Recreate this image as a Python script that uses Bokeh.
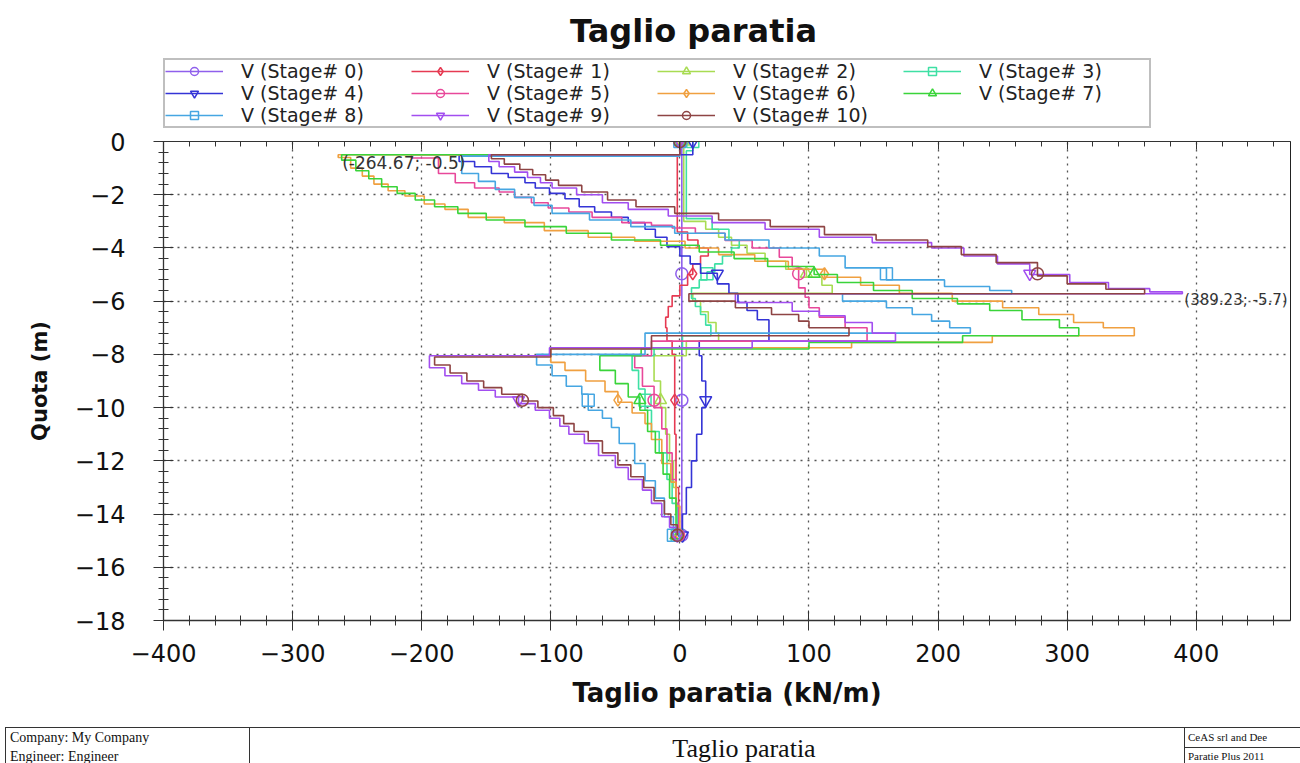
from bokeh.plotting import figure
from bokeh.models import (Range1d, LinearAxis, SingleIntervalTicker, Legend, LegendItem, Label, Div)
from bokeh.layouts import column
from bokeh.embed import file_html
from bokeh.resources import INLINE
from bokeh.core.properties import value

# ---------------- data ----------------
LABELS = [f"V (Stage# {i})" for i in range(11)]
COLORS = ["#8f5fec", "#e63a52", "#a8dc52", "#3ee0a4", "#3434d6", "#e8489a",
          "#f0a040", "#3ad43a", "#46a6e2", "#a24ef0", "#8e4444"]
MARKERS = ["circle", "diamond", "triangle", "square", "inverted_triangle", "circle",
           "diamond", "triangle", "square", "inverted_triangle", "circle"]

# depth nodes (m) and shear per element (kN/m) for each stage
D0 = [0, -14.8]
V0 = [1.5]

D1 = [0, -0.5, -3.4, -3.7, -4.0, -4.3, -4.6, -5.0, -5.4, -5.8, -6.2, -6.6, -7.0, -7.5, -8.0, -9.0, -11.0, -13.0, -14.8]
V1 = [0, -2, 6, 14, 22, 16, 10, 6, 0, -6, -9, -11, -10, -6, -4, -4, -3, -1]

D2 = [0, -3.0, -3.3, -3.6, -3.9, -4.2, -4.5, -4.8, -5.1, -5.4, -5.7, -6.0, -6.4, -6.8, -7.2, -7.5,
      -8.05, -9.0, -10.0, -11.0, -12.0, -13.0, -14.0, -14.8]
V2 = [3, 20, 30, 40, 52, 66, 82, 98, 110, 118, 10, 16, 22, 28, 30, 5, -20, -15, -11, -8, -5, -3, -1]

D3 = [0, -0.35, -2.9, -3.3, -3.7, -4.0, -4.3, -4.6, -4.9, -5.2, -5.5, -5.9, -6.2, -6.5, -6.9, -7.3,
      -7.75, -8.05, -8.6, -9.3, -10.1, -10.9, -11.7, -12.7, -13.6, -14.8]
V3 = [10, 5, 25, 38, 46, 40, 33, 27, 21, 15, 9, 12, 16, 20, 24, 2, -20, -37, -32, -27, -22, -16, -10, -6, -2]

D4 = [0, -0.5, -0.75, -0.95, -1.2, -1.35, -1.55, -1.75, -1.95, -2.15, -2.45, -2.65, -2.85, -3.05, -3.3,
      -3.6, -3.95, -4.3, -4.6, -4.95, -5.35, -5.7, -6.05, -6.35, -6.7, -7.5, -8.05, -9.0, -10.0, -11.0,
      -12.0, -13.0, -14.0, -14.8]
V4 = [10, -171, -159, -146, -133, -120, -112, -101, -89, -78, -66, -53, -40, -27, -19, -10, 0, 8, 16, 29,
      38, 45, 52, 60, 69, 15, 17, 20, 17, 13, 9, 5, 2]

D5 = [0, -0.5, -0.62, -1.2, -1.55, -1.75, -1.9, -2.1, -2.3, -2.5, -2.65, -2.85, -3.05, -3.15, -3.25,
      -3.45, -3.72, -4.0, -4.35, -4.7, -5.5, -5.85, -6.25, -6.6, -7.0, -7.5, -8.05, -8.5, -9.2, -10.0,
      -10.8, -11.7, -12.7, -13.6, -14.8]
V5 = [0, -208, -187, -174, -159, -140, -128, -115, -102, -86, -68, -45, -22, -6, 12, 35, 56, 77, 87, 92,
      97, 100, 108, 128, 145, -22, -35, -29, -20, -14, -10, -6, -3, -1]

D6 = [0, -0.5, -0.6, -1.0, -1.3, -1.6, -1.85, -2.05, -2.35, -2.55, -2.85, -3.05, -3.35, -3.6, -3.75,
      -4.0, -4.25, -4.5, -4.8, -5.1, -5.4, -5.7, -6.0, -6.25, -6.5, -6.8, -7.0, -7.3, -7.55, -7.75,
      -8.3, -8.6, -9.0, -9.4, -9.8, -10.2, -10.6, -11.2, -12.1, -12.8, -13.7, -14.8]
V6 = [0, -264.67, -255, -246, -237, -226, -213, -198, -182, -164, -136, -105, -71, -35, 4, 30, 58, 84,
      112, 140, 170, 211, 250, 278, 305, 328, 352, 242, 133, -100, -89, -73, -58, -48, -37, -27, -22,
      -14, -7, -3, 0]

D7 = [0, -0.5, -0.7, -1.1, -1.4, -1.7, -1.95, -2.2, -2.45, -2.7, -2.95, -3.2, -3.45, -3.7, -3.9, -4.15,
      -4.4, -4.7, -5.0, -5.3, -5.6, -5.9, -6.1, -6.35, -6.7, -7.0, -7.3, -7.55, -7.8, -8.05, -8.6, -9.1,
      -9.6, -10.1, -10.9, -11.7, -12.5, -13.4, -14.8]
V7 = [0, -262, -251, -241, -231, -219, -205, -190, -172, -150, -120, -88, -53, -15, 15, 42, 68, 104,
      122, 150, 180, 215, 240, 265, 294, 309, 219, 100, -30, -62, -50, -40, -31, -25, -19, -13, -8, -3]

D8 = [0, -0.55, -1.2, -1.5, -1.8, -2.1, -2.4, -2.7, -2.95, -3.2, -3.45, -3.7, -4.0, -4.3, -4.75, -5.2,
      -5.45, -5.6, -5.72, -6.0, -6.25, -6.5, -6.75, -7.0, -7.2, -8.0, -8.4, -8.8, -9.2, -9.5, -10.1,
      -10.4, -10.75, -11.35, -12.1, -12.75, -13.4, -14.1, -14.8]
V8 = [0, -169, -156, -143, -128, -113, -99, -70, -38, -4, 35, 69, 108, 128, 160, 205, 240, 257, 126,
      160, 180, 195, 209, 225, -27, -111, -99, -88, -76, -71, -60, -53, -47, -35, -27, -19, -12, -5]

D9 = [0, -0.5, -0.75, -0.95, -1.15, -1.35, -1.55, -1.75, -2.0, -2.3, -2.55, -2.8, -3.05, -3.3, -3.6,
      -3.8, -4.0, -4.3, -4.6, -5.0, -5.3, -5.53, -5.65, -5.72, -6.05, -6.38, -6.55, -6.8, -7.2, -7.5,
      -7.75, -8.05, -8.5, -8.8, -9.1, -9.35, -9.6, -9.85, -10.1, -10.4, -10.7, -11.0, -11.35, -11.8,
      -12.25, -12.7, -13.1, -13.6, -14.1, -14.5, -14.8]
V9 = [0, -148, -140, -128, -118, -108, -99, -80, -60, -40, -9, 25, 66, 108, 149, 195, 220, 246, 271,
      302, 332, 364, 389.23, 43, 87, 108, 128, 149, 167, 56, -101, -194, -182, -169, -156, -143, -125,
      -112, -101, -93, -86, -74, -63, -50, -40, -29, -22, -14, -8, -2]

D10 = [0, -0.5, -0.65, -0.85, -1.05, -1.25, -1.45, -1.65, -1.9, -2.2, -2.45, -2.7, -2.95, -3.2, -3.5,
       -3.7, -3.95, -4.25, -4.55, -5.05, -5.35, -5.55, -5.72, -6.0, -6.25, -6.5, -6.75, -7.0, -7.3,
       -7.8, -8.1, -8.4, -8.7, -9.0, -9.25, -9.5, -9.75, -10.0, -10.3, -10.6, -10.9, -11.25, -11.7,
       -12.15, -12.6, -13.0, -13.5, -14.0, -14.4, -14.8]
V10 = [0, -146, -136, -124, -114, -104, -94, -76, -56, -34, -4, 30, 70, 112, 152, 192, 218, 245, 277,
       300, 330, 360, 7, 43, 71, 92, 100, 131, -22, -100, -190, -178, -165, -152, -138, -122, -110, -98,
       -90, -82, -71, -60, -48, -38, -28, -20, -12, -7, -2]

DEPTHS = [D0, D1, D2, D3, D4, D5, D6, D7, D8, D9, D10]
SHEARS = [V0, V1, V2, V3, V4, V5, V6, V7, V8, V9, V10]
MARKER_DEPTHS = [0.0, -4.97, -9.72, -14.8]
X_TICKS_TOP = [-400, -300, -200, -100, 0, 100, 200, 300, 400]

TITLE = "Taglio paratia"
FOOTER_LEFT = ["Company: My Company", "Engineer: Engineer"]
FOOTER_CENTER = "Taglio paratia"
FOOTER_RIGHT = ["CeAS srl and Dee", "Paratie Plus 2011"]


def step_path(D, V):
    xs, ys = [], []
    for i, v in enumerate(V):
        xs += [v, v]
        ys += [D[i], D[i + 1]]
    return xs, ys


def value_at(D, V, d):
    for i, v in enumerate(V):
        if D[i] >= d >= D[i + 1]:
            return v
    return V[-1]


FONT = "DejaVu Sans"
W = 1296
LEFT, RIGHT = 163, 6
HEAD_H = 129

# ---------- header (title + legend); its glyphs share the series data but lie outside its view ----------
h = figure(width=W, height=HEAD_H, x_range=Range1d(0, 1), y_range=Range1d(1, 2),
           output_backend="svg", toolbar_location=None, title=None,
           min_border_left=LEFT, min_border_right=RIGHT, min_border_top=0, min_border_bottom=0,
           x_axis_location=None, y_axis_location=None)
h.grid.visible = False
h.outline_line_color = None
h.background_fill_color = "white"
h.border_fill_color = "white"

# ---------- main chart ----------
p = figure(width=W, height=722 - HEAD_H, x_range=Range1d(-400, 473), y_range=Range1d(-18, 0),
           output_backend="svg", toolbar_location=None, title=None,
           min_border_left=LEFT, min_border_right=RIGHT, min_border_top=12, min_border_bottom=102)
p.background_fill_color = "white"
p.border_fill_color = "white"
p.outline_line_color = "#222222"
p.outline_line_width = 1

items = []
for k in range(11):
    xs, ys = step_path(DEPTHS[k], SHEARS[k])
    mx = [value_at(DEPTHS[k], SHEARS[k], d) for d in MARKER_DEPTHS]
    p.line(xs, ys, line_color=COLORS[k], line_width=1.6)
    p.scatter(mx, MARKER_DEPTHS, marker=MARKERS[k], size=12, line_color=COLORS[k],
              line_width=1.5, fill_alpha=0)
    lr = h.line(xs, ys, line_color=COLORS[k], line_width=1.6)
    sr = h.scatter(mx, MARKER_DEPTHS, marker=MARKERS[k], size=10, line_color=COLORS[k],
                   line_width=1.5, fill_alpha=0)
    items.append(LegendItem(label=LABELS[k], renderers=[lr, sr]))

legend = Legend(items=items, location=(0, 1), orientation="horizontal", ncols=4,
                glyph_width=58, glyph_height=20, label_height=20, label_width=170,
                label_standoff=18, spacing=0, padding=0, margin=0,
                border_line_color="#808080", border_line_width=2,
                background_fill_color="white", background_fill_alpha=1.0,
                label_text_font=FONT, label_text_font_size="19px", label_text_color="#222222")
h.add_layout(legend, "center")
h.add_layout(Label(x=530, y=HEAD_H - 30, x_units="screen", y_units="screen", text=TITLE,
                   text_font=FONT, text_font_style="bold", text_font_size="32px",
                   text_align="center", text_baseline="middle", text_color="#111111"))

xt = SingleIntervalTicker(interval=100, num_minor_ticks=5)
yt = SingleIntervalTicker(interval=2, num_minor_ticks=5)
p.xaxis.ticker = xt
p.yaxis.ticker = yt
p.xgrid.ticker = xt
p.ygrid.ticker = yt
for g in (p.xgrid, p.ygrid):
    g.grid_line_color = "#555555"
    g.grid_line_dash = "2 5"
    g.grid_line_width = 1.3

for ax in (p.xaxis[0], p.yaxis[0]):
    ax.axis_line_color = "#333333"
    ax.axis_line_width = 1.3
    ax.major_tick_line_color = "#333333"
    ax.minor_tick_line_color = "#333333"
    ax.major_tick_in = 10
    ax.major_tick_out = 10
    ax.minor_tick_in = 5
    ax.minor_tick_out = 5
    ax.major_label_text_font = FONT
    ax.major_label_text_font_size = "24px"
    ax.major_label_text_color = "#111111"
    ax.axis_label_text_font = FONT
    ax.axis_label_text_font_style = "bold"
    ax.axis_label_text_color = "#111111"

p.xaxis[0].axis_label = "Taglio paratia (kN/m)"
p.xaxis[0].axis_label_text_font_size = "26px"
p.xaxis[0].major_label_standoff = 13
p.xaxis[0].axis_label_standoff = 13
p.yaxis[0].axis_label = "Quota (m)"
p.yaxis[0].axis_label_text_font_size = "21px"
p.yaxis[0].major_label_standoff = 28
p.yaxis[0].axis_label_standoff = 20

top_axis = LinearAxis(ticker=SingleIntervalTicker(interval=100, num_minor_ticks=5),
                      major_label_overrides={t: "" for t in X_TICKS_TOP},
                      major_label_text_font_size="1px", major_label_standoff=0,
                      axis_line_color="#333333",
                      major_tick_in=8, major_tick_out=0, minor_tick_in=5, minor_tick_out=0,
                      major_tick_line_color="#333333", minor_tick_line_color="#333333")
p.add_layout(top_axis, "above")

# extreme value annotations, from the data
i_min = V6.index(min(V6))
i_max = V9.index(max(V9))
p.text([V6[i_min]], [D6[i_min]], text=[f"({V6[i_min]:.2f}; {D6[i_min]:g})"],
       x_offset=4, y_offset=8, text_baseline="middle",
       text_font=value(FONT), text_font_size="17px", text_color="#333333")
p.text([V9[i_max]], [D9[i_max]], text=[f"({V9[i_max]:.2f}; {-5.7:g})"],
       x_offset=2, y_offset=8, text_baseline="middle",
       text_font=value(FONT), text_font_size="15px", text_color="#333333")

# ---------- footer ----------
footer_html = f"""
<div style="position:relative;width:1296px;height:38px;box-sizing:border-box;border-top:1.5px solid #333;
border-left:1.5px solid #333;border-right:1.5px solid #333;font-family:'Liberation Serif',serif;color:#111;overflow:hidden;">
  <div style="position:absolute;left:4px;top:2px;font-size:14px;line-height:16px;white-space:nowrap;">{FOOTER_LEFT[0]}</div>
  <div style="position:absolute;left:4px;top:21px;font-size:14px;line-height:16px;white-space:nowrap;">{FOOTER_LEFT[1]}</div>
  <div style="position:absolute;left:243px;top:0;width:0;height:38px;border-left:1.5px solid #333;"></div>
  <div style="position:absolute;left:245px;width:986px;top:6px;font-size:26px;line-height:30px;text-align:center;white-space:nowrap;">{FOOTER_CENTER}</div>
  <div style="position:absolute;left:1178px;top:0;width:0;height:38px;border-left:1.5px solid #333;"></div>
  <div style="position:absolute;left:1178px;top:19px;width:120px;height:0;border-top:1.5px solid #333;"></div>
  <div style="position:absolute;left:1182px;top:3px;font-size:11px;line-height:13px;white-space:nowrap;">{FOOTER_RIGHT[0]}</div>
  <div style="position:absolute;left:1182px;top:22px;font-size:11px;line-height:13px;white-space:nowrap;">{FOOTER_RIGHT[1]}</div>
</div>
"""
footer = Div(text=footer_html, width=W, height=38)

layout = column(h, p, footer, spacing=0)
open("out.html", "w").write(file_html(layout, INLINE))
